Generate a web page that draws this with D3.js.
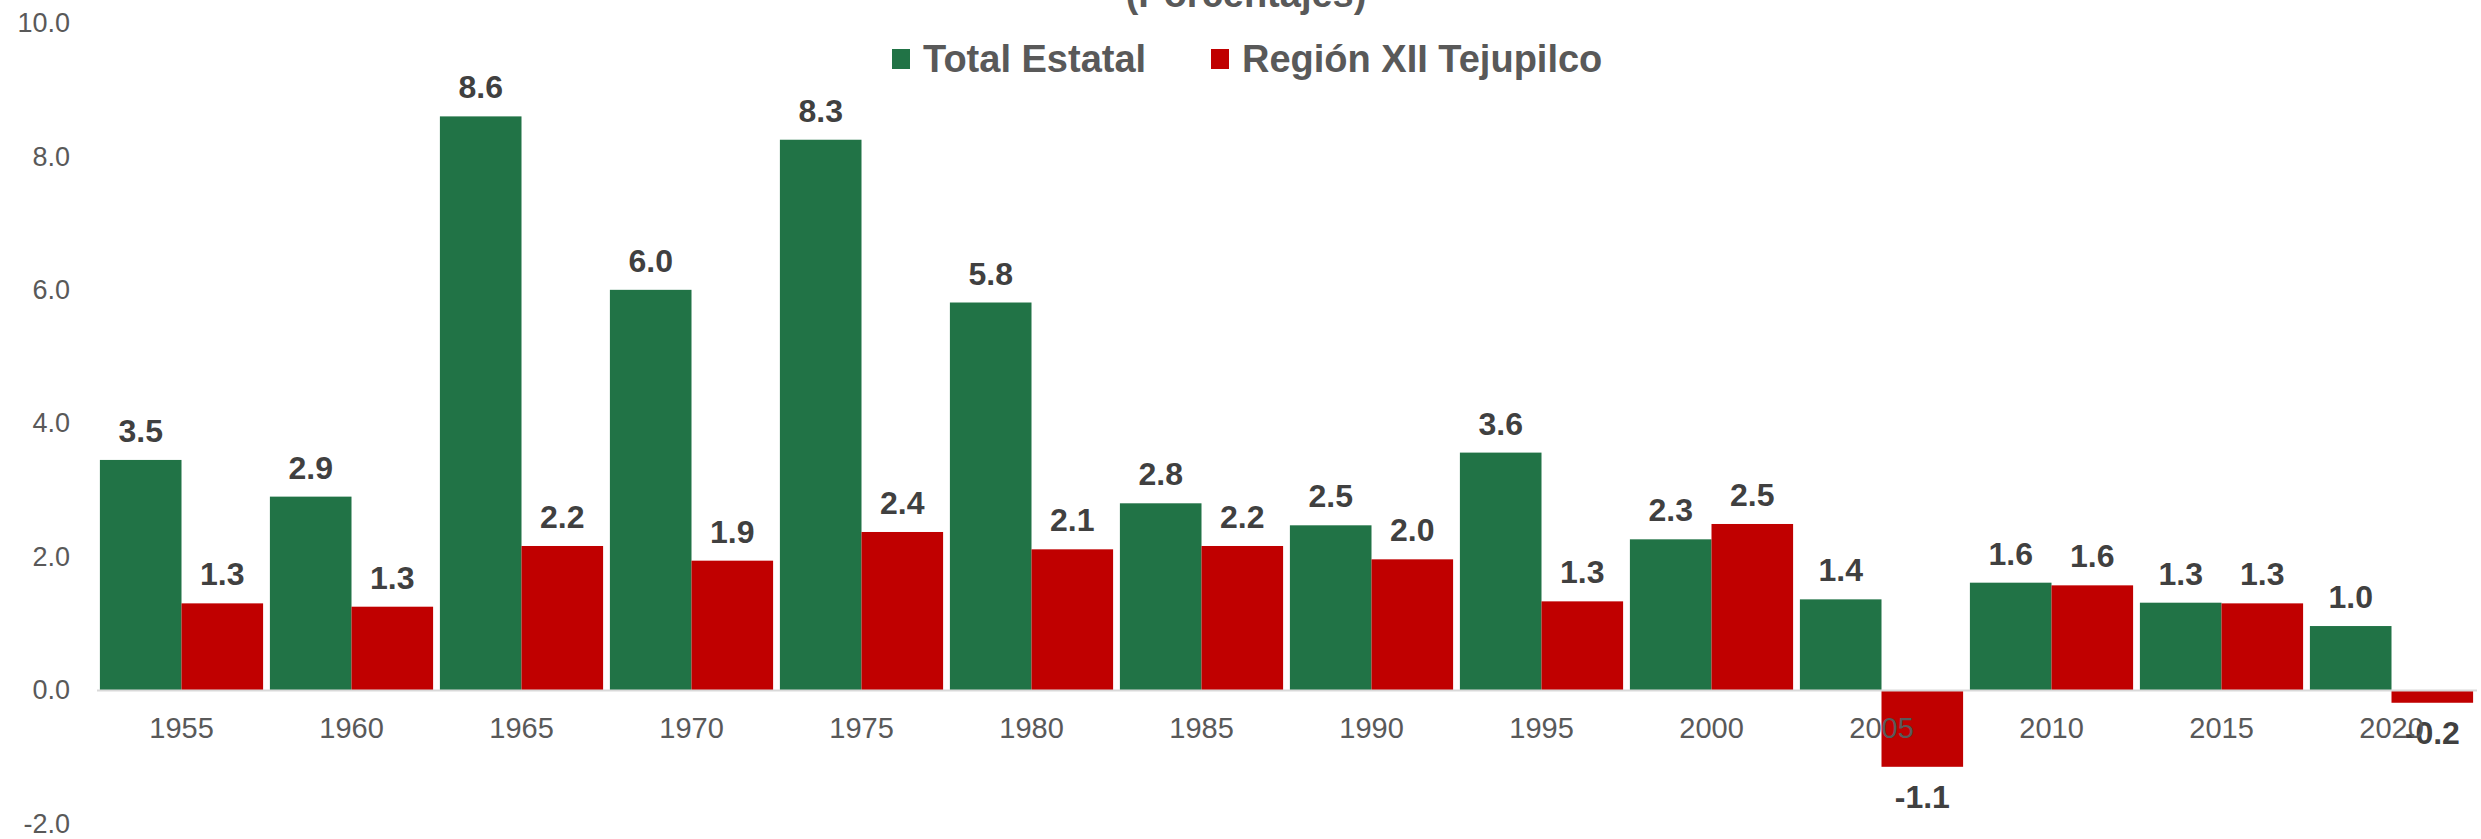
<!DOCTYPE html>
<html>
  <head>
    <meta charset="utf-8">
    <title>Tasa de crecimiento</title>
    <script src="https://d3js.org/d3.v7.min.js"></script>
    <style>
      body { margin: 0; background: #fff; }
      text { font-family: "Liberation Sans", Arial, sans-serif; }
    </style>
  </head>
  <body>
    <svg width="2481" height="839"></svg>
    <script>
      const years = ["1955", "1960", "1965", "1970", "1975", "1980", "1985",
                     "1990", "1995", "2000", "2005", "2010", "2015", "2020"];
      const seriesNames = ["Total Estatal", "Región XII Tejupilco"];
      const totalEstatal = [3.45, 2.9, 8.6, 6.0, 8.25, 5.81, 2.8, 2.47, 3.56, 2.26, 1.36, 1.61, 1.31, 0.96];
      const regionXII = [1.3, 1.25, 2.16, 1.94, 2.37, 2.11, 2.16, 1.96, 1.33, 2.49, -1.15, 1.57, 1.3, -0.19];
      const yTicks = [-2, 0, 2, 4, 6, 8, 10];
      const colors = ["#217346", "#C00000"];

      const svg = d3.select("svg");

      const data = years.map((yr, i) => ({
        year: yr,
        values: [totalEstatal[i], regionXII[i]]
      }));

      const x = d3.scaleBand()
        .domain(years)
        .range([96.5, 2476.5])
        .paddingInner(0.04)
        .paddingOuter(0.02);

      const xInner = d3.scaleBand()
        .domain([0, 1])
        .range([0, x.bandwidth()]);

      const y = d3.scaleLinear()
        .domain([-2, 10])
        .range([823.5, 23]);

      const fmt = v => v.toFixed(1);

      // y axis (labels only)
      const yAxis = svg.append("g")
        .attr("transform", "translate(96.5,0)")
        .call(d3.axisLeft(y).tickValues(yTicks).tickSize(0).tickPadding(26.5).tickFormat(fmt));
      yAxis.select(".domain").remove();
      yAxis.selectAll("text")
        .attr("fill", "#595959")
        .style("font-size", "27px");

      // bars
      const groups = svg.selectAll("g.grp")
        .data(data)
        .enter().append("g")
          .attr("class", "grp")
          .attr("transform", d => `translate(${x(d.year)},0)`);

      groups.selectAll("rect")
        .data(d => d.values)
        .enter().append("rect")
          .attr("x", (d, i) => xInner(i))
          .attr("width", xInner.bandwidth())
          .attr("y", d => y(Math.max(0, d)))
          .attr("height", d => Math.abs(y(d) - y(0)))
          .attr("fill", (d, i) => colors[i]);

      // x axis
      const xAxis = svg.append("g")
        .attr("transform", `translate(0,${y(0)})`)
        .call(d3.axisBottom(x).tickSize(0).tickPadding(27));
      xAxis.select(".domain")
        .attr("stroke", "#d9d9d9")
        .attr("stroke-width", 2);
      xAxis.selectAll("text")
        .attr("fill", "#595959")
        .style("font-size", "29px");

      // value labels
      groups.selectAll("text.val")
        .data(d => d.values)
        .enter().append("text")
          .attr("class", "val")
          .attr("x", (d, i) => xInner(i) + xInner.bandwidth() / 2)
          .attr("y", d => d >= 0 ? y(d) - 18 : y(d) + 41)
          .attr("text-anchor", "middle")
          .attr("fill", "#404040")
          .style("font-size", "32px")
          .style("font-weight", "bold")
          .text(fmt);

      // title (cut off at top)
      svg.append("text")
        .attr("x", 1246)
        .attr("y", 7)
        .attr("text-anchor", "middle")
        .attr("fill", "#595959")
        .style("font-size", "38px")
        .style("font-weight", "bold")
        .text("(Porcentajes)");

      // legend
      const legendX = [892, 1211];
      const legend = svg.selectAll("g.legend")
        .data(seriesNames)
        .enter().append("g")
          .attr("class", "legend")
          .attr("transform", (d, i) => `translate(${legendX[i]},0)`);
      legend.append("rect")
        .attr("y", 49)
        .attr("width", 18)
        .attr("height", 20)
        .attr("fill", (d, i) => colors[i]);
      legend.append("text")
        .attr("x", 31)
        .attr("y", 72)
        .attr("fill", "#595959")
        .style("font-size", "38px")
        .style("font-weight", "bold")
        .text(d => d);
    </script>
  </body>
</html>
